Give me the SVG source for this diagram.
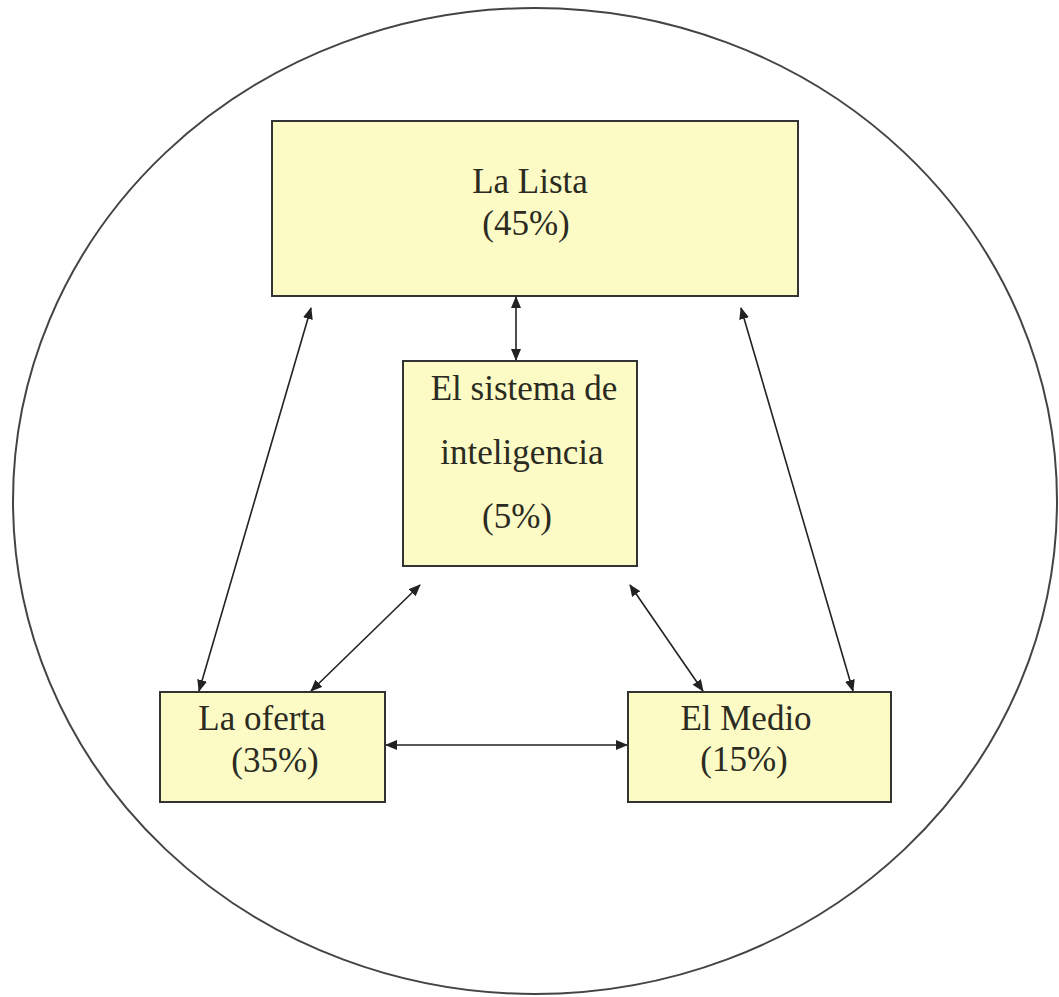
<svg xmlns="http://www.w3.org/2000/svg" width="1059" height="997" viewBox="0 0 1059 997">
<style>
.box{fill:#FCFBC6;stroke:#333;stroke-width:2}
.lbl{font-family:"Liberation Serif","Times New Roman",serif;font-size:35px;fill:#2b2b22;text-anchor:middle}
.con{stroke:#222;stroke-width:1.6;fill:none;marker-start:url(#ah);marker-end:url(#ah)}
</style>
<defs>
<marker id="ah" viewBox="0 0 12 10" refX="11" refY="5" markerWidth="12" markerHeight="10" markerUnits="userSpaceOnUse" orient="auto-start-reverse">
<path d="M0,0 L12,5 L0,10 Z" fill="#222"/>
</marker>
</defs>
<rect width="1059" height="997" fill="#fff"/>
<ellipse id="frame" cx="535" cy="501" rx="522" ry="493" fill="none" stroke="#444" stroke-width="2"/>
<g id="connectors">
<line class="con" x1="516" y1="297" x2="516" y2="360"/>
<line class="con" x1="311" y1="308" x2="199" y2="691"/>
<line class="con" x1="741" y1="308" x2="853" y2="691"/>
<line class="con" x1="420" y1="585" x2="311" y2="691"/>
<line class="con" x1="630" y1="585" x2="703" y2="691"/>
<line class="con" x1="386" y1="745" x2="627" y2="745"/>
</g>
<g id="lista">
<rect class="box" x="272" y="121" width="526" height="175"/>
<text class="lbl" x="530" y="193">La Lista</text>
<text class="lbl" x="526" y="235">(45%)</text>
</g>
<g id="sistema">
<rect class="box" x="403" y="361" width="234" height="205"/>
<text class="lbl" x="524" y="400">El sistema de</text>
<text class="lbl" x="522" y="464">inteligencia</text>
<text class="lbl" x="517" y="528">(5%)</text>
</g>
<g id="oferta">
<rect class="box" x="160" y="692" width="225" height="110"/>
<text class="lbl" x="262" y="730">La oferta</text>
<text class="lbl" x="275" y="772">(35%)</text>
</g>
<g id="medio">
<rect class="box" x="628" y="692" width="263" height="110"/>
<text class="lbl" x="746" y="730">El Medio</text>
<text class="lbl" x="744" y="771">(15%)</text>
</g>
</svg>
